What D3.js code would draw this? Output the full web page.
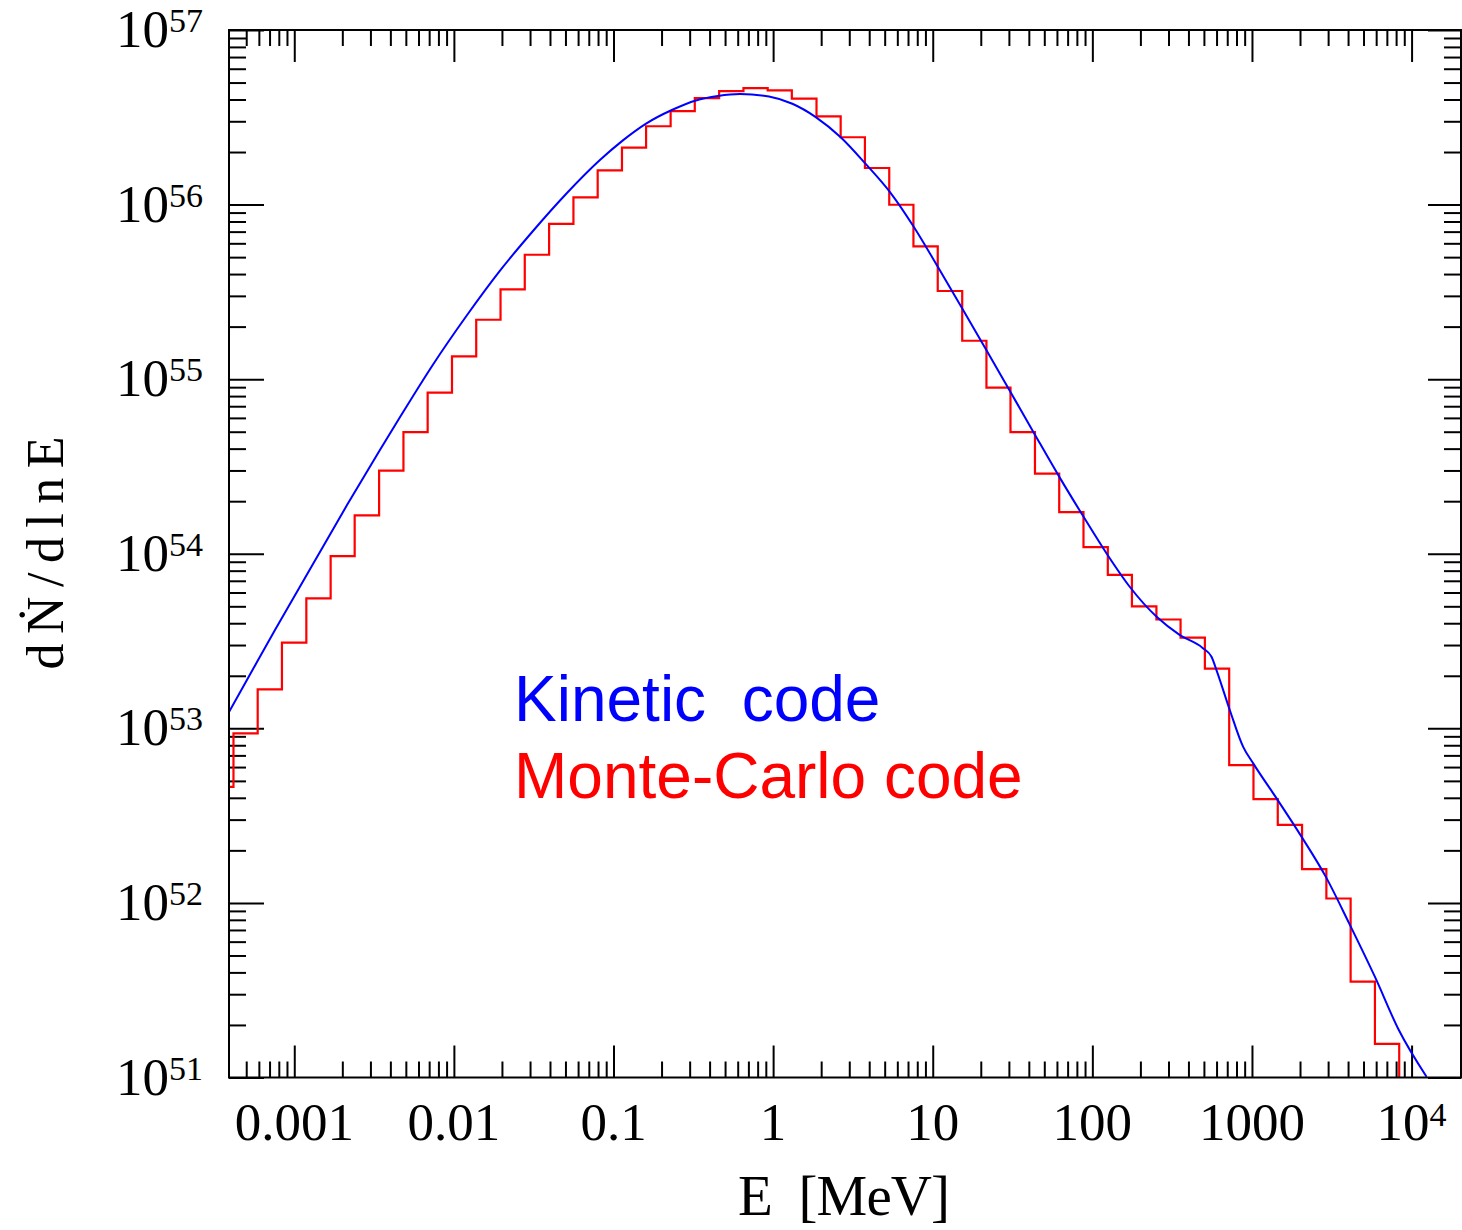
<!DOCTYPE html>
<html>
<head>
<meta charset="utf-8">
<script src="https://cdn.jsdelivr.net/npm/d3@7"></script>
<style>
body { margin: 0; background: #fff; }
text { white-space: pre; }
</style>
</head>
<body>
<script>

// axis extents
var xDomain = [3.9e-4, 2.04e4];
var yDomain = [1e51, 1e57];

// tick labels
var xTickValues = [0.001, 0.01, 0.1, 1, 10, 100, 1000, 10000];
var xTickLabels = ["0.001", "0.01", "0.1", "1", "10", "100", "1000", "10"];
var xTickSups = ["", "", "", "", "", "", "", "4"];
var yTickValues = [1e51, 1e52, 1e53, 1e54, 1e55, 1e56, 1e57];
var yTickSups = ["51", "52", "53", "54", "55", "56", "57"];

// monte-carlo histogram: bin edges [MeV] and dN/dlnE per bin
var binEdges = [2.93e-4, 4.16e-4, 5.90e-4, 8.37e-4, 1.19e-3, 1.69e-3, 2.39e-3, 3.40e-3, 4.83e-3, 6.85e-3,
	9.73e-3, 1.38e-2, 1.96e-2, 2.78e-2, 3.95e-2, 5.61e-2, 7.96e-2, 0.113, 0.160, 0.228,
	0.323, 0.459, 0.652, 0.925, 1.31, 1.87, 2.65, 3.76, 5.34, 7.57,
	10.75, 15.3, 21.7, 30.7, 43.7, 62.0, 88.0, 125, 177, 252,
	357, 507, 720, 1022, 1451, 2060, 2925, 4151, 5894, 8366, 11880];
var monteCarlo = [4.62e52, 9.35e52, 1.67e53, 3.10e53, 5.55e53, 9.68e53, 1.66e54, 2.99e54, 4.98e54, 8.38e54,
	1.35e55, 2.19e55, 3.27e55, 5.16e55, 7.76e55, 1.10e56, 1.57e56, 2.12e56, 2.81e56, 3.43e56,
	4.07e56, 4.47e56, 4.65e56, 4.51e56, 4.04e56, 3.20e56, 2.43e56, 1.62e56, 9.98e55, 5.77e55,
	3.20e55, 1.66e55, 8.95e54, 4.98e54, 2.88e54, 1.73e54, 1.09e54, 7.57e53, 5.00e53, 4.20e53,
	3.31e53, 2.20e53, 6.15e52, 3.93e52, 2.80e52, 1.56e52, 1.06e52, 3.54e51, 1.56e51, 3.0e50];

// kinetic code curve
var kineticE = [3.90e-4, 5.05e-4, 7.57e-4, 9.96e-4, 1.31e-3, 2.14e-3, 3.44e-3, 4.60e-3, 7.39e-3, 1.21e-2,
	1.94e-2, 3.13e-2, 5.11e-2, 8.22e-2, 0.113, 0.160, 0.232, 0.328, 0.451, 0.620,
	0.942, 1.32, 1.85, 2.65, 3.80, 5.47, 7.62, 10.78, 15.02, 21.85,
	30.44, 43.05, 62.63, 87.3, 123.4, 171.9, 253.8, 353.7, 492.6, 558,
	600, 727, 881, 1018, 1426, 2047, 2904, 4063, 5888, 8318, 12410];
var kineticN = [1.24e53, 1.89e53, 3.66e53, 5.65e53, 8.73e53, 1.90e54, 3.93e54, 6.07e54, 1.21e55, 2.33e55,
	4.17e55, 7.06e55, 1.165e56, 1.80e56, 2.31e56, 2.91e56, 3.48e56, 3.95e56, 4.19e56, 4.30e56,
	4.16e56, 3.78e56, 3.17e56, 2.43e56, 1.71e56, 1.16e56, 7.44e55, 4.39e55, 2.62e55, 1.45e55,
	8.56e54, 4.92e54, 2.72e54, 1.65e54, 9.97e53, 6.45e53, 4.34e53, 3.42e53, 2.88e53, 2.57e53,
	2.15e53, 1.27e53, 7.83e52, 6.30e52, 3.97e52, 2.39e52, 1.41e52, 7.64e51, 3.78e51, 1.87e51, 1.01e51];

var legendLabels = ["Kinetic  code", "Monte-Carlo code"];
var legendColours = ["#0000ff", "#ff0000"];


// some dimensions for the svg
var svgDims = {
	width: 1462,
	height: 1230,
	plot: { left: 229, right: 1461, top: 30, bottom: 1077.5 }
};
var p = svgDims.plot;

var svg = d3.select("body").append("svg")
	.attr("width", svgDims.width)
	.attr("height", svgDims.height);

var x = d3.scaleLog().domain(xDomain).range([p.left, p.right]);
var y = d3.scaleLog().domain(yDomain).range([p.bottom, p.top]);

var tickFont = "'Liberation Serif', 'DejaVu Serif', serif";

svg.append("clipPath").attr("id", "plot-clip")
	.append("rect")
	.attr("x", p.left).attr("y", p.top)
	.attr("width", p.right - p.left).attr("height", p.bottom - p.top);

// major / minor ticks
var isDecade = function(v) {
	var l = Math.log10(v);
	return Math.abs(l - Math.round(l)) < 1e-6;
};
var xMinor = x.ticks().filter(function(v) {
	return !isDecade(v) && x(v) > p.left + 3 && x(v) < p.right - 3;
});
var yMinor = y.ticks().filter(function(v) {
	return !isDecade(v) && y(v) < p.bottom - 3 && y(v) > p.top + 3;
});

var drawAxis = function(axis, tx, ty) {
	var g = svg.append("g").attr("transform", "translate(" + tx + "," + ty + ")").call(axis);
	g.select(".domain").remove();
	g.selectAll("text").remove();
	g.selectAll("line").attr("stroke", "#000").attr("stroke-width", 2);
};

drawAxis(d3.axisBottom(x).tickValues(xTickValues).tickSize(-32), 0, p.bottom);
drawAxis(d3.axisBottom(x).tickValues(xMinor).tickSize(-16), 0, p.bottom);
drawAxis(d3.axisTop(x).tickValues(xTickValues).tickSize(-32), 0, p.top);
drawAxis(d3.axisTop(x).tickValues(xMinor).tickSize(-16), 0, p.top);
drawAxis(d3.axisLeft(y).tickValues(yTickValues).tickSize(-35), p.left, 0);
drawAxis(d3.axisLeft(y).tickValues(yMinor).tickSize(-17), p.left, 0);
drawAxis(d3.axisRight(y).tickValues(yTickValues).tickSize(-33), p.right, 0);
drawAxis(d3.axisRight(y).tickValues(yMinor).tickSize(-17), p.right, 0);

// histogram
var histPoints = monteCarlo.map(function(v, i) { return [binEdges[i], v]; });
histPoints.push([binEdges[monteCarlo.length], monteCarlo[monteCarlo.length - 1]]);

svg.append("path")
	.datum(histPoints)
	.attr("clip-path", "url(#plot-clip)")
	.attr("fill", "none")
	.attr("stroke", "#ff0000")
	.attr("stroke-width", 2.2)
	.attr("d", d3.line()
		.x(function(d) { return x(d[0]); })
		.y(function(d) { return y(d[1]); })
		.curve(d3.curveStepAfter));

// kinetic curve
svg.append("path")
	.datum(kineticE.map(function(e, i) { return [e, kineticN[i]]; }))
	.attr("clip-path", "url(#plot-clip)")
	.attr("fill", "none")
	.attr("stroke", "#0000ff")
	.attr("stroke-width", 2)
	.attr("d", d3.line()
		.x(function(d) { return x(d[0]); })
		.y(function(d) { return y(d[1]); })
		.curve(d3.curveMonotoneX));

// frame
svg.append("rect")
	.attr("x", p.left).attr("y", p.top)
	.attr("width", p.right - p.left).attr("height", p.bottom - p.top)
	.attr("fill", "none")
	.attr("stroke", "#000")
	.attr("stroke-width", 2);

// y tick labels
var ylab = svg.selectAll(".ylab")
	.data(yTickValues)
	.enter().append("text")
	.attr("class", "ylab")
	.attr("x", 203)
	.attr("y", function(d) { return y(d) + 17; })
	.attr("text-anchor", "end")
	.attr("font-family", tickFont)
	.attr("font-size", 53)
	.attr("fill", "#000");
ylab.append("tspan").text("10");
ylab.append("tspan")
	.attr("font-size", 34)
	.attr("dy", -15)
	.text(function(d, i) { return yTickSups[i]; });

// x tick labels
var xlab = svg.selectAll(".xlab")
	.data(xTickValues)
	.enter().append("text")
	.attr("class", "xlab")
	.attr("x", function(d) { return x(d); })
	.attr("y", 1140)
	.attr("text-anchor", "middle")
	.attr("font-family", tickFont)
	.attr("font-size", 53)
	.attr("fill", "#000");
xlab.append("tspan").text(function(d, i) { return xTickLabels[i]; });
xlab.append("tspan")
	.attr("font-size", 34)
	.attr("dy", -14)
	.text(function(d, i) { return xTickSups[i]; });

// axis titles
svg.append("text")
	.attr("x", 844)
	.attr("y", 1215)
	.attr("text-anchor", "middle")
	.attr("font-family", tickFont)
	.attr("font-size", 57)
	.attr("textLength", 212)
	.attr("lengthAdjust", "spacing")
	.text("E  [MeV]");

svg.append("text")
	.attr("transform", "translate(63,553) rotate(-90)")
	.attr("text-anchor", "middle")
	.attr("font-family", tickFont)
	.attr("font-size", 52)
	.attr("textLength", 233)
	.attr("lengthAdjust", "spacing")
	.text("d\u1E44/dlnE");

// legend
svg.selectAll(".legend")
	.data(legendLabels)
	.enter().append("text")
	.attr("class", "legend")
	.attr("x", 514)
	.attr("y", function(d, i) { return 721 + i * 77; })
	.attr("font-family", "'Liberation Sans', Arial, sans-serif")
	.attr("font-size", 64)
	.attr("fill", function(d, i) { return legendColours[i]; })
	.text(function(d) { return d; });

</script>
</body>
</html>
